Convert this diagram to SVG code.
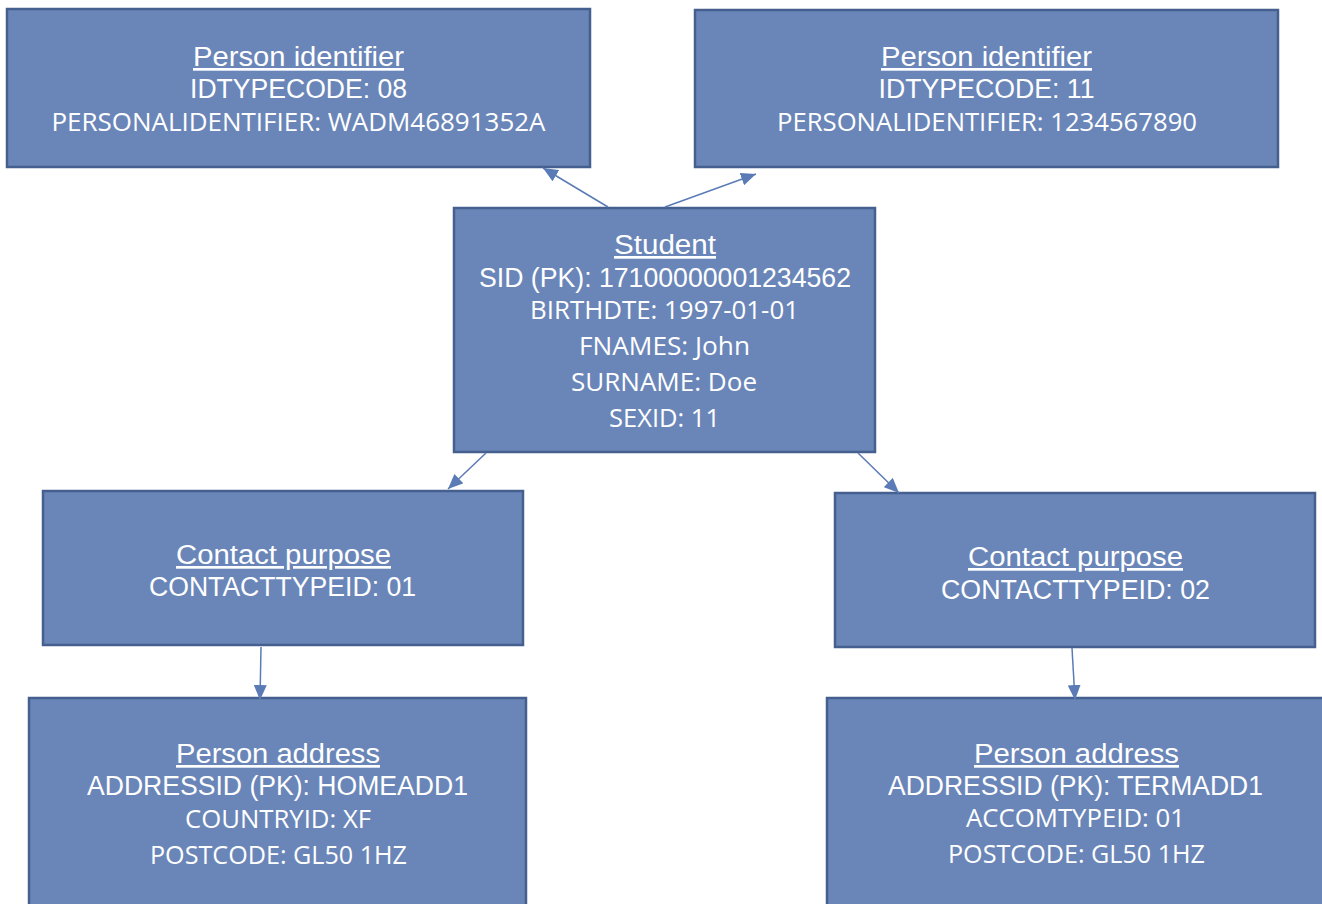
<svg xmlns="http://www.w3.org/2000/svg" width="1322" height="904" viewBox="0 0 1322 904">
<defs>
<marker id="arr" viewBox="0 0 15 13" refX="15" refY="6.5" markerWidth="15" markerHeight="13" markerUnits="userSpaceOnUse" orient="auto">
<path d="M0,0 L15,6.5 L0,13 Z" fill="#5A7BB5"/>
</marker>
<style>
.box{fill:#6A86B8;stroke:#455F8E;stroke-width:2.5}
.t{fill:#fff;text-anchor:middle}
.a{font-family:"Liberation Sans",Arial,sans-serif;font-size:27px}
.h{font-family:"Liberation Sans",Arial,sans-serif;font-size:27px;text-decoration:underline}
.c{font-family:"Open Sans","Noto Sans",sans-serif;font-size:25px}
.conn line{stroke:#5A7BB5;stroke-width:1.5;marker-end:url(#arr)}
</style>
</defs>
<rect width="1322" height="904" fill="#fff"/>
<g id="pi1">
<rect class="box" x="7" y="9" width="583" height="158"/>
<text class="t h" x="298.5" y="66" textLength="211" lengthAdjust="spacingAndGlyphs">Person identifier</text>
<text class="t a" x="298.5" y="98" textLength="217" lengthAdjust="spacingAndGlyphs">IDTYPECODE: 08</text>
<text class="t c" x="298.5" y="131" textLength="494" lengthAdjust="spacingAndGlyphs">PERSONALIDENTIFIER: WADM46891352A</text>
</g>
<g id="pi2">
<rect class="box" x="695" y="10" width="583" height="157"/>
<text class="t h" x="986.5" y="66" textLength="211" lengthAdjust="spacingAndGlyphs">Person identifier</text>
<text class="t a" x="986.5" y="98" textLength="216" lengthAdjust="spacingAndGlyphs">IDTYPECODE: 11</text>
<text class="t c" x="987" y="131" textLength="420" lengthAdjust="spacingAndGlyphs">PERSONALIDENTIFIER: 1234567890</text>
</g>
<g id="student">
<rect class="box" x="454" y="208" width="421" height="244"/>
<text class="t h" x="665" y="254" textLength="102" lengthAdjust="spacingAndGlyphs">Student</text>
<text class="t a" x="665" y="287" textLength="372" lengthAdjust="spacingAndGlyphs">SID (PK): 17100000001234562</text>
<text class="t c" x="664.5" y="319" textLength="269" lengthAdjust="spacingAndGlyphs">BIRTHDTE: 1997-01-01</text>
<text class="t c" x="664.5" y="355" textLength="171" lengthAdjust="spacingAndGlyphs">FNAMES: John</text>
<text class="t c" x="664" y="391" textLength="186" lengthAdjust="spacingAndGlyphs">SURNAME: Doe</text>
<text class="t c" x="664.5" y="427" textLength="111" lengthAdjust="spacingAndGlyphs">SEXID: 11</text>
</g>
<g id="cp1">
<rect class="box" x="43" y="491" width="480" height="154"/>
<text class="t h" x="283.5" y="564" textLength="215" lengthAdjust="spacingAndGlyphs">Contact purpose</text>
<text class="t a" x="282.5" y="596" textLength="267" lengthAdjust="spacingAndGlyphs">CONTACTTYPEID: 01</text>
</g>
<g id="cp2">
<rect class="box" x="835" y="493" width="480" height="154"/>
<text class="t h" x="1075.5" y="566" textLength="215" lengthAdjust="spacingAndGlyphs">Contact purpose</text>
<text class="t a" x="1075.5" y="599" textLength="269" lengthAdjust="spacingAndGlyphs">CONTACTTYPEID: 02</text>
</g>
<g id="pa1">
<rect class="box" x="29" y="698" width="497" height="220"/>
<text class="t h" x="278" y="763" textLength="204" lengthAdjust="spacingAndGlyphs">Person address</text>
<text class="t a" x="277.5" y="795" textLength="381" lengthAdjust="spacingAndGlyphs">ADDRESSID (PK): HOMEADD1</text>
<text class="t c" x="278" y="828" textLength="186" lengthAdjust="spacingAndGlyphs">COUNTRYID: XF</text>
<text class="t c" x="278.5" y="864" textLength="257" lengthAdjust="spacingAndGlyphs">POSTCODE: GL50 1HZ</text>
</g>
<g id="pa2">
<rect class="box" x="827" y="698" width="510" height="220"/>
<text class="t h" x="1076.5" y="763" textLength="205" lengthAdjust="spacingAndGlyphs">Person address</text>
<text class="t a" x="1075.5" y="795" textLength="375" lengthAdjust="spacingAndGlyphs">ADDRESSID (PK): TERMADD1</text>
<text class="t c" x="1075.5" y="827" textLength="219" lengthAdjust="spacingAndGlyphs">ACCOMTYPEID: 01</text>
<text class="t c" x="1076.5" y="863" textLength="257" lengthAdjust="spacingAndGlyphs">POSTCODE: GL50 1HZ</text>
</g>
<g id="connectors" class="conn">
<line x1="608" y1="207" x2="543" y2="168"/>
<line x1="665" y1="207" x2="756" y2="174"/>
<line x1="486" y1="453" x2="448" y2="489"/>
<line x1="858" y1="453" x2="899" y2="493"/>
<line x1="261" y1="647" x2="260" y2="700"/>
<line x1="1072" y1="648" x2="1075" y2="700"/>
</g>
</svg>
